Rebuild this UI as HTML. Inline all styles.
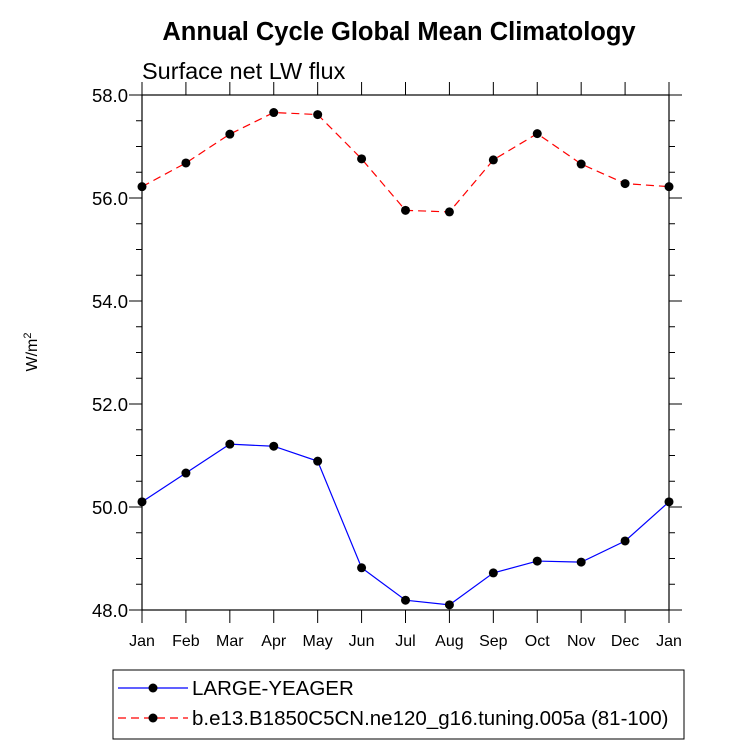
<!DOCTYPE html>
<html><head><meta charset="utf-8"><style>body{margin:0;background:#fff}svg{display:block;font-family:"Liberation Sans",sans-serif}</style></head>
<body>
<svg id="chart" width="733" height="744" viewBox="0 0 733 744">
<text x="399" y="40" font-size="25.5" font-weight="bold" text-anchor="middle">Annual Cycle Global Mean Climatology</text>
<text x="142" y="79" font-size="23.5">Surface net LW flux</text>
<text transform="translate(37,352) rotate(-90)" font-size="16" text-anchor="middle">W/m<tspan font-size="11" dy="-6">2</tspan></text>
<g id="axes"></g><g id="series"></g>
<g>
<rect x="113" y="670" width="571" height="69" fill="#fff" stroke="#000" stroke-width="1"/>
<line x1="118" y1="688" x2="188" y2="688" stroke="#00f" stroke-width="1.2"/>
<circle cx="153" cy="688" r="4.5"/>
<text x="192" y="695" font-size="20.5">LARGE-YEAGER</text>
<line x1="118" y1="718" x2="188" y2="718" stroke="#f00" stroke-width="1.2" stroke-dasharray="8,5"/>
<circle cx="153" cy="718" r="4.5"/>
<text x="192" y="725" font-size="20.5">b.e13.B1850C5CN.ne120_g16.tuning.005a (81-100)</text>
</g>
</svg>
<script>
const months=["Jan","Feb","Mar","Apr","May","Jun","Jul","Aug","Sep","Oct","Nov","Dec","Jan"];
const yTicks=[48,50,52,54,56,58];
const blueVals=[50.10,50.66,51.22,51.18,50.89,48.82,48.19,48.10,48.72,48.95,48.93,49.34,50.10];
const redVals=[56.22,56.68,57.24,57.66,57.62,56.76,55.76,55.73,56.74,57.25,56.66,56.28,56.22];
const L=142,R=669,T=95,B=610,ymin=48,ymax=58;
const X=i=>L+(R-L)*i/(months.length-1);
const Y=v=>B-(v-ymin)/(ymax-ymin)*(B-T);
const NS="http://www.w3.org/2000/svg";
function mk(t,a,p){const e=document.createElementNS(NS,t);for(const k in a)e.setAttribute(k,a[k]);p.appendChild(e);return e;}
const ax=document.getElementById('axes');
const fr=mk('rect',{x:L,y:T,width:R-L,height:B-T,fill:'none',stroke:'#000','stroke-width':1.2},ax);


for(let v=ymin;v<=ymax+1e-9;v+=0.5){
 const maj=Math.abs(v/2-Math.round(v/2))<1e-6, len=maj?13:6, y=Y(v);
 mk('line',{x1:L-len,y1:y,x2:L,y2:y,stroke:'#000','stroke-width':1},ax);
 mk('line',{x1:R,y1:y,x2:R+len,y2:y,stroke:'#000','stroke-width':1},ax);
}
yTicks.forEach(v=>{const t=mk('text',{x:L-14,y:Y(v)+7,'font-size':18.5,'text-anchor':'end'},ax);t.textContent=v.toFixed(1);

});
months.forEach((m,i)=>{const x=X(i);
 mk('line',{x1:x,y1:B,x2:x,y2:B+13,stroke:'#000','stroke-width':1},ax);
 mk('line',{x1:x,y1:T-13,x2:x,y2:T,stroke:'#000','stroke-width':1},ax);
 const t=mk('text',{x:x,y:B+36,'font-size':16,'text-anchor':'middle'},ax);t.textContent=m;
 
 });
const sg=document.getElementById('series');
function series(vals,col,dash,name){
 const p=mk('polyline',{points:vals.map((v,i)=>X(i)+','+Y(v)).join(' '),fill:'none',stroke:col,'stroke-width':1.2,'stroke-dasharray':dash},sg);
 
 
 vals.forEach((v,i)=>{const c=mk('circle',{cx:X(i),cy:Y(v),r:4.5,fill:'#000'},sg);
  
  });
}
series(redVals,'#f00','8,5','b-e13');
series(blueVals,'#00f','none','large-yeager');
</script>
</body></html>
